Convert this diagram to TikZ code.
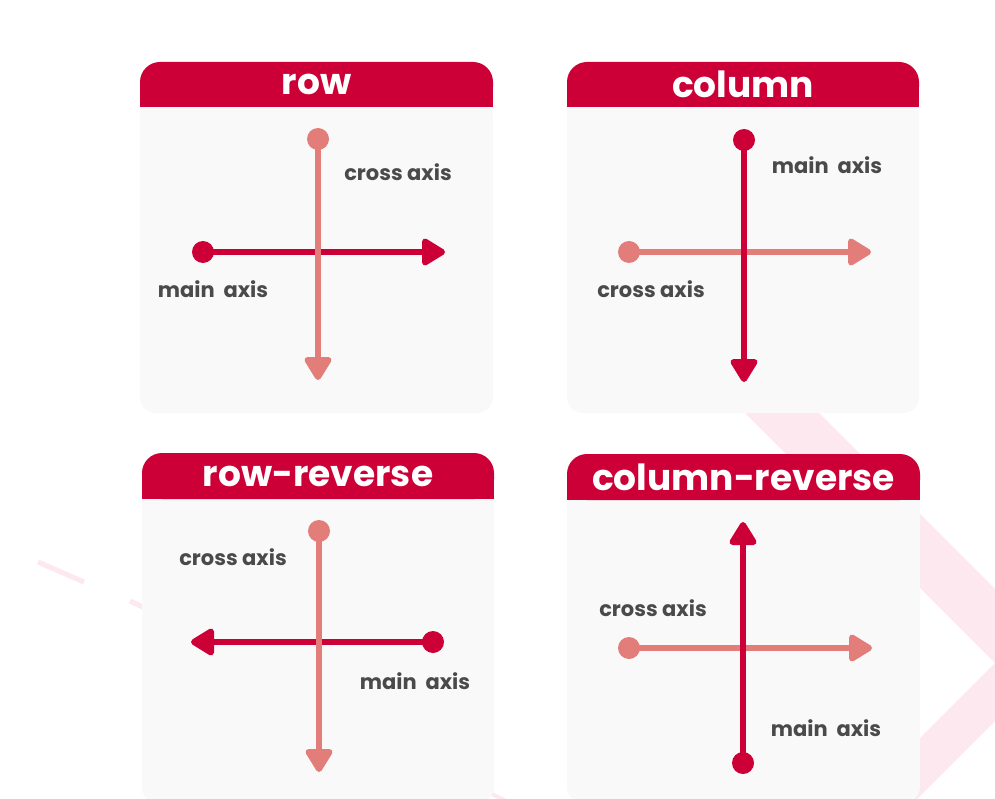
\documentclass[tikz,border=0pt]{standalone}
\usepackage{fontspec}
\setmainfont{Poppins}
\usetikzlibrary{arrows.meta}

\definecolor{crimson}{HTML}{CC0036}
\definecolor{salmon}{HTML}{E27D7A}
\definecolor{panelbg}{HTML}{F9F9F9}
\definecolor{labelgray}{HTML}{4A4A4A}
\definecolor{blush}{HTML}{FCE8EE}

% one card: header band with rounded top corners, light body with rounded bottom corners
% #1 left, #2 right, #3 top, #4 header bottom, #5 body bottom, #6 node name, #7 title
\newcommand{\flexcard}[7]{%
  \fill[panelbg, rounded corners=16pt] (#1,#4) rectangle (#2,#5);
  \fill[panelbg] (#1,#4) rectangle (#2,#4+30);
  \fill[crimson, rounded corners=20pt] (#1,#3) rectangle (#2,#4);
  \fill[crimson] (#1,#4-22) rectangle (#2,#4);
  \node[cardtitle] (#6) at ({(#1+#2)/2},{(#3+#4)/2}) {#7};
}

\tikzset{
  cardtitle/.style={text=white, font=\bfseries\fontsize{36}{36}\selectfont, inner sep=0pt},
  axislabel/.style={text=labelgray, font=\bfseries\fontsize{21}{21}\selectfont, inner sep=0pt},
  dotnode/.style={circle, inner sep=0pt, minimum size=22pt},
  axishead/.style={-{Triangle[length=26pt 0 0,width=30pt 0 0,round]}},
  mainaxis/.style={draw=crimson, line width=6pt, axishead},
  crossaxis/.style={draw=salmon, line width=6pt, axishead},
}

\begin{document}
\begin{tikzpicture}[x=1pt, y=-1pt]
\useasboundingbox (0,0) rectangle (995,799);
\fill[white] (0,0) rectangle (995,799);

% faint background chevron and strokes
\begin{scope}
  \clip (0,0) rectangle (995,799);
  \fill[blush] (712,380) -- (786,380) -- (1061,655) -- (917,799) -- (859,799) -- (995,663) -- cycle;
  \draw[blush, line width=5pt] (38,562) -- (84,582);
  \draw[blush, line width=5pt] (130,601) -- (145,608);
  \draw[blush, line width=4pt] (490,793) -- (506,801);
\end{scope}

% cards
\flexcard{140}{493}{62}{107}{413}{trow}{row}
\flexcard{567}{919}{62}{107}{413}{tcol}{column}
\flexcard{142}{494}{453}{499}{803}{trowrev}{row-reverse}
\flexcard{567}{920}{454}{500}{803}{tcolrev}{column-reverse}

% row
\node[dotnode, fill=crimson] (rowMs) at (203,252) {};
\coordinate (rowMe) at (445,252);
\node[dotnode, fill=salmon] (rowCs) at (318,139) {};
\coordinate (rowCe) at (318,380);
\draw[mainaxis] (rowMs.center) -- (rowMe);
\draw[crossaxis] (rowCs.center) -- (rowCe);
\node[axislabel] (rowCl) at (398,172) {cross axis};
\node[axislabel] (rowMl) at (213,289) {main\ \ axis};

% column
\node[dotnode, fill=salmon] (colCs) at (629,252) {};
\coordinate (colCe) at (871,252);
\node[dotnode, fill=crimson] (colMs) at (744,140) {};
\coordinate (colMe) at (744,382);
\draw[crossaxis] (colCs.center) -- (colCe);
\draw[mainaxis] (colMs.center) -- (colMe);
\node[axislabel] (colMl) at (827,165) {main\ \ axis};
\node[axislabel] (colCl) at (651,289) {cross axis};

% row-reverse
\node[dotnode, fill=crimson] (rrMs) at (433,642) {};
\coordinate (rrMe) at (191,642);
\node[dotnode, fill=salmon] (rrCs) at (319,531) {};
\coordinate (rrCe) at (319,772);
\draw[mainaxis] (rrMs.center) -- (rrMe);
\draw[crossaxis] (rrCs.center) -- (rrCe);
\node[axislabel] (rrCl) at (233,557) {cross axis};
\node[axislabel] (rrMl) at (415,681) {main\ \ axis};

% column-reverse
\node[dotnode, fill=salmon] (crCs) at (629,648) {};
\coordinate (crCe) at (872,648);
\node[dotnode, fill=crimson] (crMs) at (743,763) {};
\coordinate (crMe) at (743,522);
\draw[crossaxis] (crCs.center) -- (crCe);
\draw[mainaxis] (crMs.center) -- (crMe);
\node[axislabel] (crCl) at (653,608) {cross axis};
\node[axislabel] (crMl) at (826,728) {main\ \ axis};
\end{tikzpicture}
\end{document}
